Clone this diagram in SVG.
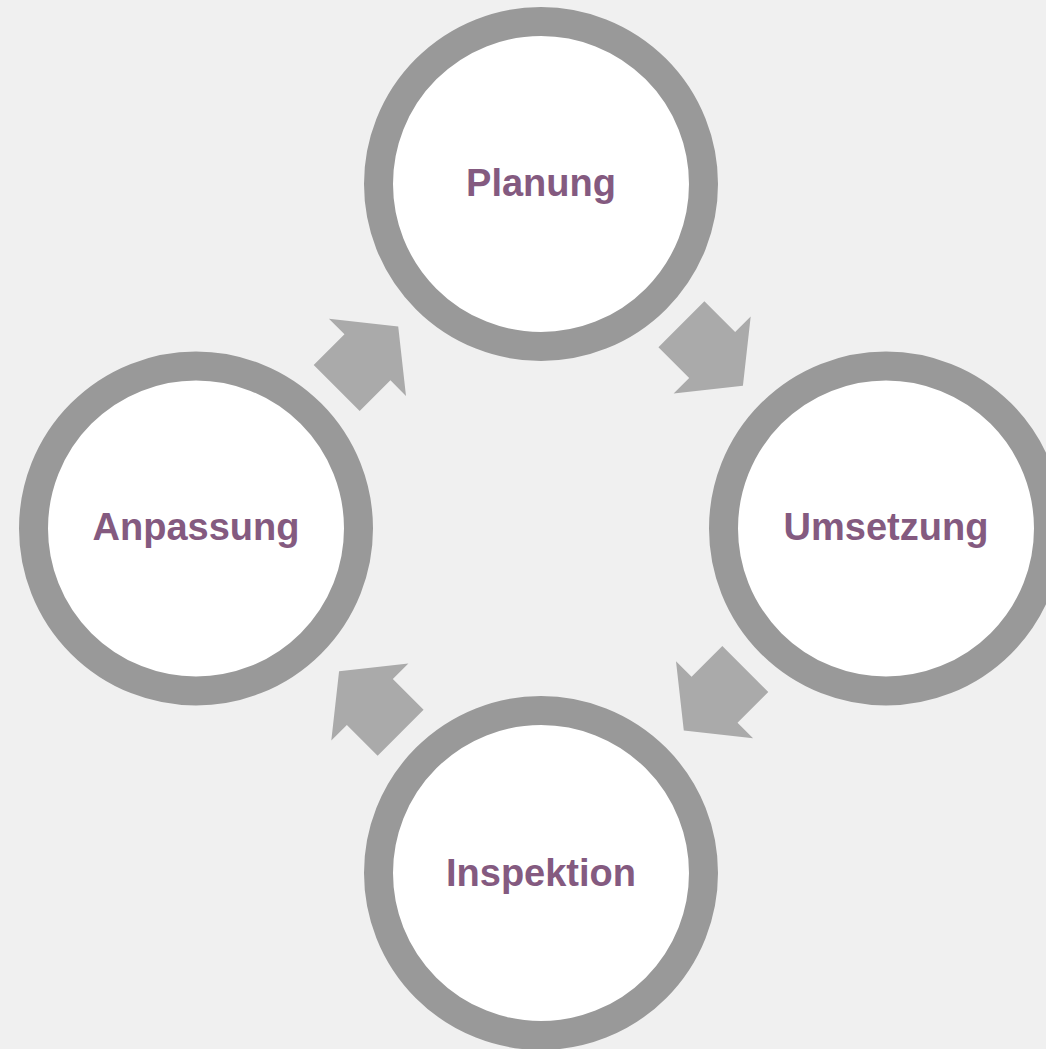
<svg xmlns="http://www.w3.org/2000/svg" width="1046" height="1049" viewBox="0 0 1046 1049">
<style>
.ring{fill:#ffffff;stroke:#999999;stroke-width:29}
.lbl{font-family:"Liberation Sans",Arial,sans-serif;font-weight:bold;font-size:38px;fill:#845a80;text-anchor:middle}
.arr{fill:#aaaaaa}
</style>
<defs>
<path id="blk" d="M0,-32.5 L43.5,-32.5 L43.5,-54.5 L87,0 L43.5,54.5 L43.5,32.5 L0,32.5 Z"/>
</defs>
<rect width="1046" height="1049" fill="#f0f0f0"/>
<g id="connectors">
<use href="#blk" class="arr" transform="translate(681.4,324.2) rotate(45)"/>
<use href="#blk" class="arr" transform="translate(745.3,669) rotate(135)"/>
<use href="#blk" class="arr" transform="translate(400.6,732.8) rotate(225)"/>
<use href="#blk" class="arr" transform="translate(336.7,388.1) rotate(315)"/>
</g>
<g id="planung">
<circle class="ring" cx="541" cy="184" r="162.5"/>
<text class="lbl" x="541" y="196">Planung</text>
</g>
<g id="umsetzung">
<circle class="ring" cx="886" cy="528.5" r="162.5"/>
<text class="lbl" x="886" y="540">Umsetzung</text>
</g>
<g id="inspektion">
<circle class="ring" cx="541" cy="873" r="162.5"/>
<text class="lbl" x="541" y="886">Inspektion</text>
</g>
<g id="anpassung">
<circle class="ring" cx="196" cy="528.5" r="162.5"/>
<text class="lbl" x="196" y="540">Anpassung</text>
</g>
</svg>
